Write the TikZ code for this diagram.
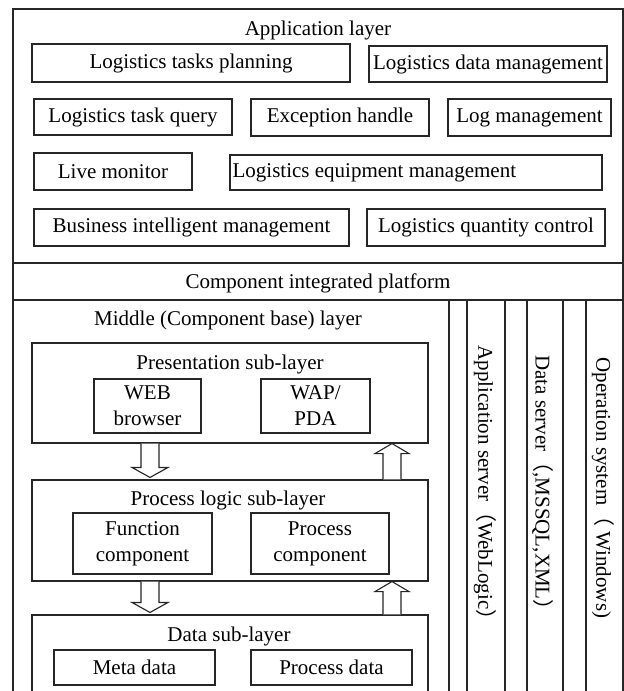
\documentclass[tikz,border=0pt]{standalone}
\usepackage{fontspec}
\setmainfont{Liberation Serif}
\newfontfamily\cjk{Noto Sans CJK SC}
\usetikzlibrary{calc}
\newcommand\bx[6]{\node[box,minimum width={(#4-#2)*1pt},minimum height={(#5-#3)*1pt}] (#1) at ({(#2+#4)/2},{(#3+#5)/2}) {#6};}
\newcommand\dnarrow[2]{\draw[blk] let \p1=(#1), \p2=(#2) in
  (\x1-9pt,\y1) -- (\x1-9pt,\y2+12pt) -- (\x1-18pt,\y2+12pt) -- (\x1,\y2+2pt)
  -- (\x1+18pt,\y2+12pt) -- (\x1+9pt,\y2+12pt) -- (\x1+9pt,\y1);}
\newcommand\uparrowblk[2]{\draw[blk] let \p1=(#1), \p2=(#2) in
  (\x1-9pt,\y1) -- (\x1-9pt,\y2-10pt) -- (\x1-17pt,\y2-10pt) -- (\x1,\y2)
  -- (\x1+17pt,\y2-10pt) -- (\x1+9pt,\y2-10pt) -- (\x1+9pt,\y1);}
\begin{document}
\begin{tikzpicture}[x=1pt,y=-1pt,
  box/.style={draw=black!85, line width=1.1pt, inner sep=0pt, font=\fontsize{21}{26}\selectfont, align=center},
  txt/.style={inner sep=0pt, font=\fontsize{21}{26}\selectfont, align=center},
  blk/.style={draw=black!85, line width=1.1pt, fill=white, line join=miter}]
\useasboundingbox (0,0) rectangle (624,691);
% outer frame
\node[box, line width=1.3pt, minimum width=610pt, minimum height=700pt] (frame) at (318,359) {};
\coordinate (s1) at (0,263);
\coordinate (s2) at (0,300);
\draw[line width=1.2pt, black!85] (frame.west |- s1) -- (frame.east |- s1);
\draw[line width=1.2pt, black!85] (frame.west |- s2) -- (frame.east |- s2);
% application layer
\node[txt] (applbl) at (318,30) {Application layer};
\bx{plan}{32}{44}{350}{82}{Logistics tasks planning}
\bx{datam}{369}{46}{607}{82}{Logistics data management}
\bx{query}{34}{99}{232}{135}{Logistics task query}
\bx{exc}{251}{99}{429}{136}{Exception handle}
\bx{logm}{448}{99}{611}{136}{Log management}
\bx{live}{34}{153}{192}{190}{Live monitor}
\bx{equip}{230}{155}{602}{190}{}
\node[txt, anchor=west] (equiptxt) at ([xshift=3pt]equip.west) {Logistics equipment management};
\bx{bim}{34}{209}{349}{246}{Business intelligent management}
\bx{lqc}{367}{209}{605}{246}{Logistics quantity control}
% platform
\node[txt] (cip) at (318,283) {Component integrated platform};
% middle layer
\coordinate (mr) at (449,0);
\draw[line width=1.1pt, black!85] (mr |- s2) -- ++(0,420);
\node[txt] (midlbl) at (228,320) {Middle (Component base) layer};
\bx{pres}{32}{343}{428}{443}{}
\node[txt] (prestitle) at (230,364) {Presentation sub-layer};
\bx{web}{94}{379}{201}{433}{WEB\\browser}
\bx{wap}{261}{379}{370}{433}{WAP/\\PDA}
\bx{logic}{32}{480}{428}{581}{}
\node[txt] (logictitle) at (228,500) {Process logic sub-layer};
\bx{func}{73}{513}{212}{574}{Function\\component}
\bx{proc}{251}{513}{389}{574}{Process\\component}
\bx{data}{32}{615}{428}{720}{}
\node[txt] (datatitle) at (229,636) {Data sub-layer};
\bx{meta}{54}{650}{215}{685}{Meta data}
\bx{pdata}{251}{650}{412}{685}{Process data}
% arrows
\coordinate (dx) at (150,0);
\coordinate (ux) at (392,0);
\dnarrow{dx |- pres.south}{dx |- logic.north}
\uparrowblk{ux |- logic.north}{ux |- pres.south}
\dnarrow{dx |- logic.south}{dx |- data.north}
\uparrowblk{ux |- data.north}{ux |- logic.south}
% server columns
\bx{appcol}{467}{300}{505}{720}{}
\bx{datacol}{527}{300}{563}{720}{}
\bx{oscol}{586}{300}{623}{720}{}
\node[txt, rotate=-90] (apptxt) at (485,488) {Application server{\cjk （}WebLogic{\cjk ）}};
\node[txt, rotate=-90] (datatxt) at (543,488) {Data server{\cjk （},MSSQL,XML{\cjk ）}};
\node[txt, rotate=-90] (ostxt) at (603,488) {Operation system{\cjk （} Windows)};
\end{tikzpicture}
\end{document}
